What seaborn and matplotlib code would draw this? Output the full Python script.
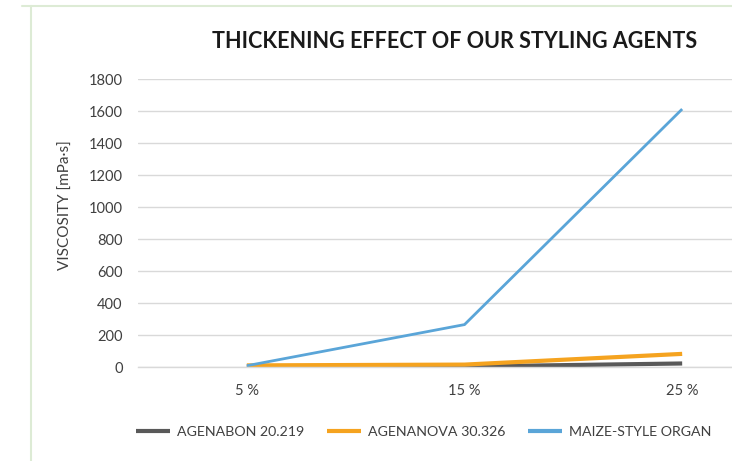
import matplotlib
matplotlib.use("Agg")
import matplotlib.pyplot as plt
import seaborn as sns
import pandas as pd
from matplotlib.lines import Line2D

categories = ["5 %", "15 %", "25 %"]
agenabon = [2, 3, 22]
agenanova = [10, 15, 82]
maize = [8, 265, 1612]
series_names = ["AGENABON 20.219", "AGENANOVA 30.326", "MAIZE-STYLE ORGAN"]
yticks = [0, 200, 400, 600, 800, 1000, 1200, 1400, 1600, 1800]

colors = ["#595959", "#F5A31F", "#5AA5D8"]
widths = [3.0, 3.0, 2.0]

rows = []
for name, vals in zip(series_names, [agenabon, agenanova, maize]):
    for c, v in zip(categories, vals):
        rows.append({"conc": c, "visc": v, "series": name})
df = pd.DataFrame(rows)

sns.set_theme(style="white")
plt.rcParams['font.family'] = ['Lato', 'DejaVu Sans']

fig = plt.figure(figsize=(7.32, 4.61), dpi=100)
W, H = 732, 461
ax = fig.add_axes([138 / W, (H - 367) / H, (791 - 138) / W, (367 - 79) / H])

for name, col, lw in zip(series_names, colors, widths):
    sub = df[df["series"] == name]
    sns.lineplot(data=sub, x="conc", y="visc", ax=ax, color=col, linewidth=lw,
                 sort=False, legend=False)
for ln in ax.lines:
    ln.set_solid_capstyle('butt')
    ln.set_solid_joinstyle('miter')

ax.set_xlim(-0.5, 2.5)
ax.set_ylim(0, 1800)
ax.set_yticks(yticks)
ax.set_yticklabels([str(t) for t in yticks])
ax.grid(axis='y', color='#D9D9D9', linewidth=1)
ax.set_axisbelow(True)
for s in ["top", "right", "left"]:
    ax.spines[s].set_visible(False)
ax.spines["bottom"].set_color('#D9D9D9')
ax.spines["bottom"].set_linewidth(1)
ax.tick_params(axis='both', length=0, labelsize=10.5, labelcolor='#404040')
ax.tick_params(axis='y', pad=11)
ax.tick_params(axis='x', pad=12)
ax.set_xlabel("")
ax.set_ylabel("")

fig.text(66 / W, (H - 205) / H, "VISCOSITY [mPa·s]", rotation=90, ha='center', va='center',
         fontsize=11, color='#404040')
fig.text(455 / W, (H - 42) / H, "THICKENING EFFECT OF OUR STYLING AGENTS", ha='center', va='center',
         fontsize=15.5, fontweight='bold', color='#1A1A1A')

# frame border
fig.add_artist(Line2D([31 / W, 31 / W], [0, (H - 6) / H], color='#DDEBD5', linewidth=1.5))
fig.add_artist(Line2D([22 / W, 1], [(H - 6) / H, (H - 6) / H], color='#DDEBD5', linewidth=1.5))

handles = [Line2D([], [], color=c, linewidth=3, solid_capstyle='butt') for c in colors]
fig.legend(handles, series_names, loc='center left', bbox_to_anchor=(136 / W, (H - 432) / H),
           ncol=3, frameon=False, fontsize=10.2, labelcolor='#404040', borderpad=0,
           borderaxespad=0, handlelength=2.4, handletextpad=0.5, columnspacing=1.6)

fig.savefig("out.png", dpi=100)
